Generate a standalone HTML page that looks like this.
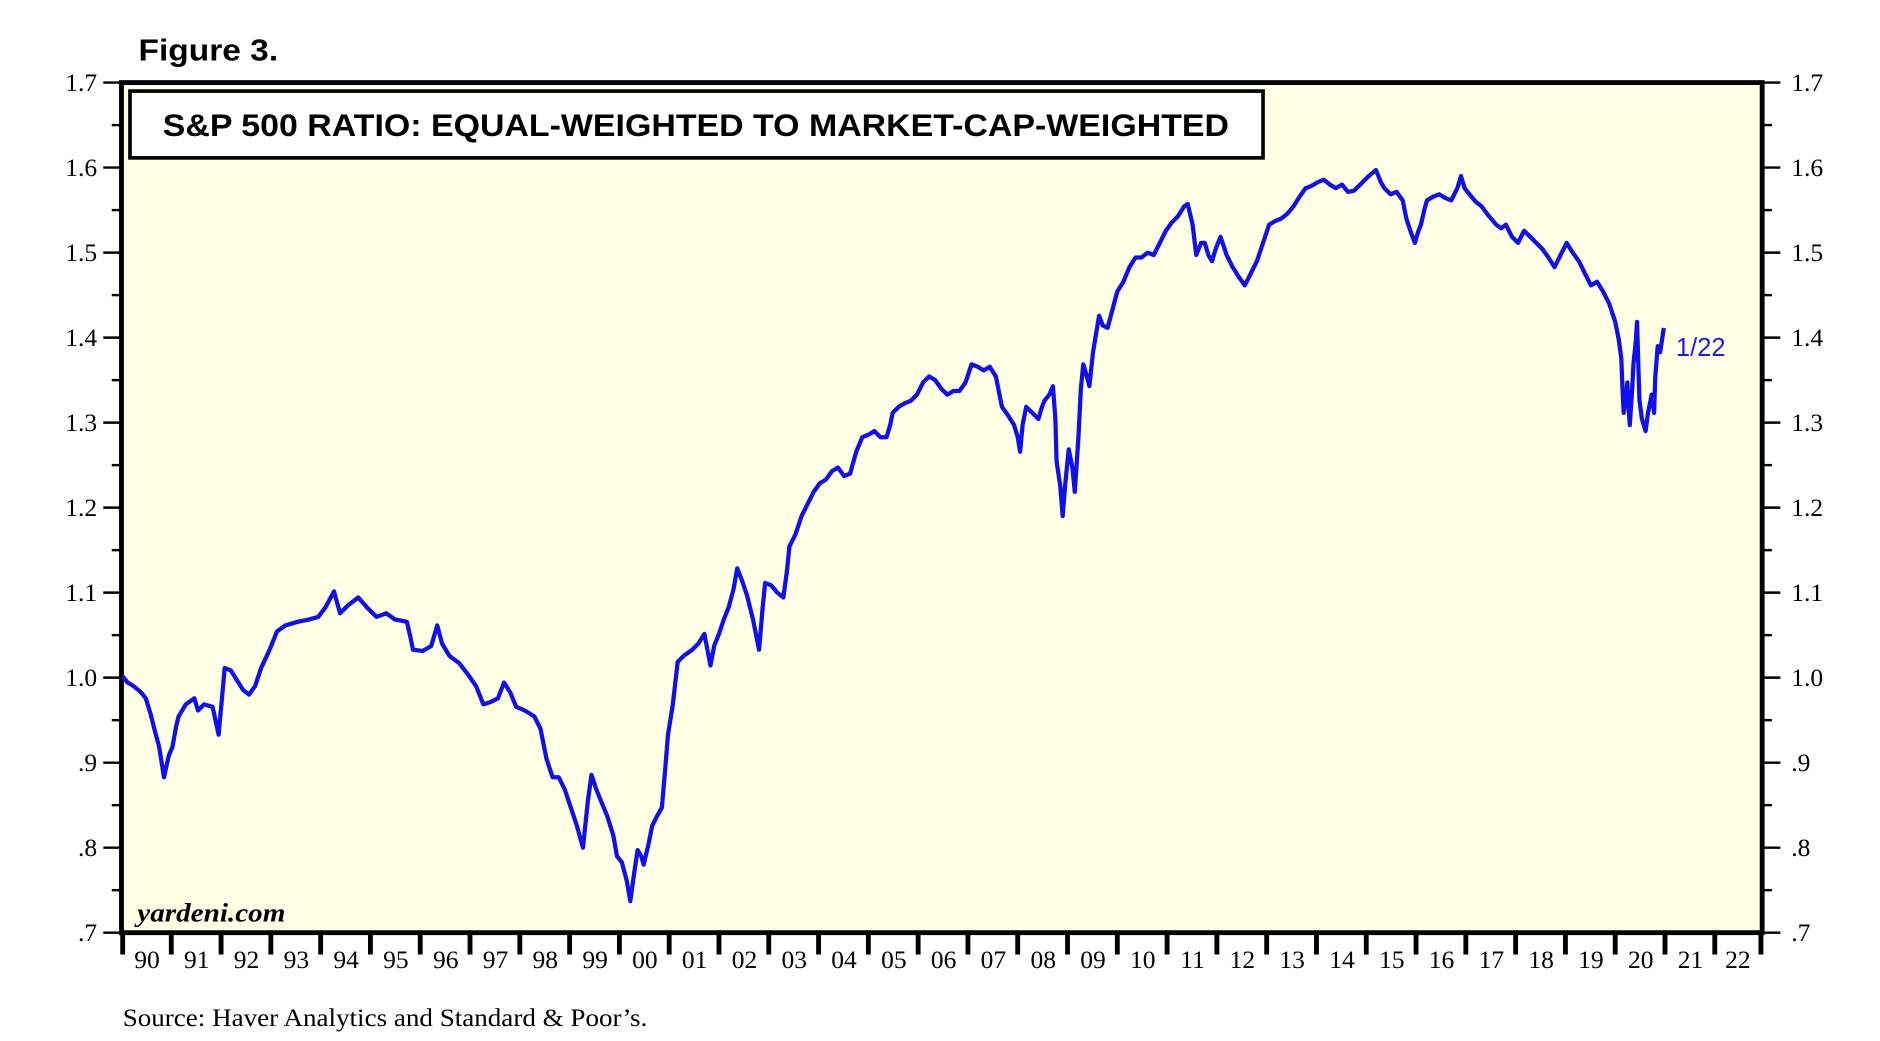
<!DOCTYPE html>
<html><head><meta charset="utf-8"><style>html,body{margin:0;padding:0;background:#fff}svg{display:block}</style></head>
<body>
<svg width="1880" height="1041" viewBox="0 0 1548 857.2" xmlns="http://www.w3.org/2000/svg">
<rect x="0" y="0" width="1548" height="858" fill="#fff"/>
<text x="114" y="50" font-family="Liberation Sans, sans-serif" font-weight="bold" font-size="25" textLength="115" lengthAdjust="spacingAndGlyphs">Figure 3.</text>
<rect x="100" y="68" width="1351" height="700" fill="#ffffe6" stroke="#000" stroke-width="4"/>
<g stroke="#000" stroke-width="2">
<line x1="85" y1="68" x2="100" y2="68"/><line x1="92" y1="103" x2="100" y2="103"/>
<line x1="85" y1="138" x2="100" y2="138"/><line x1="92" y1="173" x2="100" y2="173"/>
<line x1="85" y1="208" x2="100" y2="208"/><line x1="92" y1="243" x2="100" y2="243"/>
<line x1="85" y1="278" x2="100" y2="278"/><line x1="92" y1="313" x2="100" y2="313"/>
<line x1="85" y1="348" x2="100" y2="348"/><line x1="92" y1="383" x2="100" y2="383"/>
<line x1="85" y1="418" x2="100" y2="418"/><line x1="92" y1="453" x2="100" y2="453"/>
<line x1="85" y1="488" x2="100" y2="488"/><line x1="92" y1="523" x2="100" y2="523"/>
<line x1="85" y1="558" x2="100" y2="558"/><line x1="92" y1="593" x2="100" y2="593"/>
<line x1="85" y1="628" x2="100" y2="628"/><line x1="92" y1="663" x2="100" y2="663"/>
<line x1="85" y1="698" x2="100" y2="698"/><line x1="92" y1="733" x2="100" y2="733"/>
<line x1="85" y1="768" x2="100" y2="768"/>
<line x1="1451" y1="68" x2="1466" y2="68"/><line x1="1451" y1="103" x2="1459" y2="103"/>
<line x1="1451" y1="138" x2="1466" y2="138"/><line x1="1451" y1="173" x2="1459" y2="173"/>
<line x1="1451" y1="208" x2="1466" y2="208"/><line x1="1451" y1="243" x2="1459" y2="243"/>
<line x1="1451" y1="278" x2="1466" y2="278"/><line x1="1451" y1="313" x2="1459" y2="313"/>
<line x1="1451" y1="348" x2="1466" y2="348"/><line x1="1451" y1="383" x2="1459" y2="383"/>
<line x1="1451" y1="418" x2="1466" y2="418"/><line x1="1451" y1="453" x2="1459" y2="453"/>
<line x1="1451" y1="488" x2="1466" y2="488"/><line x1="1451" y1="523" x2="1459" y2="523"/>
<line x1="1451" y1="558" x2="1466" y2="558"/><line x1="1451" y1="593" x2="1459" y2="593"/>
<line x1="1451" y1="628" x2="1466" y2="628"/><line x1="1451" y1="663" x2="1459" y2="663"/>
<line x1="1451" y1="698" x2="1466" y2="698"/><line x1="1451" y1="733" x2="1459" y2="733"/>
<line x1="1451" y1="768" x2="1466" y2="768"/>
</g>
<g font-family="Liberation Serif, serif" font-size="21" fill="#000">
<g text-anchor="end">
<text x="80" y="75">1.7</text><text x="80" y="145">1.6</text><text x="80" y="215">1.5</text><text x="80" y="285">1.4</text><text x="80" y="355">1.3</text><text x="80" y="425">1.2</text><text x="80" y="495">1.1</text><text x="80" y="565">1.0</text><text x="80" y="635">.9</text><text x="80" y="705">.8</text><text x="80" y="775">.7</text>
</g>
<text x="1475" y="75">1.7</text><text x="1475" y="145">1.6</text><text x="1475" y="215">1.5</text><text x="1475" y="285">1.4</text><text x="1475" y="355">1.3</text><text x="1475" y="425">1.2</text><text x="1475" y="495">1.1</text><text x="1475" y="565">1.0</text><text x="1475" y="635">.9</text><text x="1475" y="705">.8</text><text x="1475" y="775">.7</text>
</g>
<g stroke="#000" stroke-width="4">
<line x1="101" y1="768" x2="101" y2="786"/><line x1="141" y1="768" x2="141" y2="786"/><line x1="182" y1="768" x2="182" y2="786"/><line x1="223" y1="768" x2="223" y2="786"/><line x1="264" y1="768" x2="264" y2="786"/><line x1="305" y1="768" x2="305" y2="786"/><line x1="346" y1="768" x2="346" y2="786"/><line x1="387" y1="768" x2="387" y2="786"/><line x1="428" y1="768" x2="428" y2="786"/><line x1="469" y1="768" x2="469" y2="786"/><line x1="510" y1="768" x2="510" y2="786"/><line x1="551" y1="768" x2="551" y2="786"/><line x1="592" y1="768" x2="592" y2="786"/><line x1="633" y1="768" x2="633" y2="786"/><line x1="674" y1="768" x2="674" y2="786"/><line x1="715" y1="768" x2="715" y2="786"/><line x1="756" y1="768" x2="756" y2="786"/><line x1="797" y1="768" x2="797" y2="786"/><line x1="838" y1="768" x2="838" y2="786"/><line x1="879" y1="768" x2="879" y2="786"/><line x1="920" y1="768" x2="920" y2="786"/><line x1="961" y1="768" x2="961" y2="786"/><line x1="1002" y1="768" x2="1002" y2="786"/><line x1="1043" y1="768" x2="1043" y2="786"/><line x1="1084" y1="768" x2="1084" y2="786"/><line x1="1125" y1="768" x2="1125" y2="786"/><line x1="1166" y1="768" x2="1166" y2="786"/><line x1="1207" y1="768" x2="1207" y2="786"/><line x1="1248" y1="768" x2="1248" y2="786"/><line x1="1289" y1="768" x2="1289" y2="786"/><line x1="1330" y1="768" x2="1330" y2="786"/><line x1="1371" y1="768" x2="1371" y2="786"/><line x1="1412" y1="768" x2="1412" y2="786"/><line x1="1450" y1="768" x2="1450" y2="786"/>
</g>
<g font-family="Liberation Serif, serif" font-size="21" fill="#000" text-anchor="middle">
<text x="121" y="797">90</text><text x="162" y="797">91</text><text x="203" y="797">92</text><text x="244" y="797">93</text><text x="285" y="797">94</text><text x="326" y="797">95</text><text x="367" y="797">96</text><text x="408" y="797">97</text><text x="449" y="797">98</text><text x="490" y="797">99</text><text x="531" y="797">00</text><text x="572" y="797">01</text><text x="613" y="797">02</text><text x="654" y="797">03</text><text x="695" y="797">04</text><text x="736" y="797">05</text><text x="777" y="797">06</text><text x="818" y="797">07</text><text x="859" y="797">08</text><text x="900" y="797">09</text><text x="941" y="797">10</text><text x="982" y="797">11</text><text x="1023" y="797">12</text><text x="1064" y="797">13</text><text x="1105" y="797">14</text><text x="1146" y="797">15</text><text x="1187" y="797">16</text><text x="1228" y="797">17</text><text x="1269" y="797">18</text><text x="1310" y="797">19</text><text x="1351" y="797">20</text><text x="1392" y="797">21</text><text x="1431" y="797">22</text>
</g>
<rect x="107" y="75" width="933" height="55" fill="#fff" stroke="#000" stroke-width="3"/>
<text x="134" y="112" font-family="Liberation Sans, sans-serif" font-weight="bold" font-size="26" textLength="878" lengthAdjust="spacingAndGlyphs">S&amp;P 500 RATIO: EQUAL-WEIGHTED TO MARKET-CAP-WEIGHTED</text>
<text x="113" y="759" font-family="Liberation Serif, serif" font-weight="bold" font-style="italic" font-size="22" textLength="122" lengthAdjust="spacingAndGlyphs">yardeni.com</text>
<text x="101" y="845" font-family="Liberation Serif, serif" font-size="21" textLength="432" lengthAdjust="spacingAndGlyphs">Source: Haver Analytics and Standard &amp; Poor’s.</text>
<text x="1380" y="293" font-family="Liberation Sans, sans-serif" font-size="21" fill="#1a1aff">1/22</text>
<path fill="none" stroke="#1010ee" stroke-width="3.5" stroke-linejoin="round" d="M101,557 L105,562 L110,565 L116,570 L120,575 L124,588 L127,600 L131,615 L135,640 L139,622 L142,615 L145,598 L147,590 L153,580 L160,575 L163,585 L168,580 L175,582 L180,605 L183,572 L185,550 L190,552 L195,560 L200,568 L205,572 L210,565 L215,550 L222,535 L228,520 L235,515 L245,512 L255,510 L262,508 L268,500 L275,487 L280,505 L287,498 L295,492 L302,500 L310,508 L318,505 L325,510 L335,512 L338,525 L340,535 L348,536 L355,532 L360,515 L364,530 L370,540 L378,546 L385,555 L392,565 L398,580 L404,578 L410,575 L415,562 L420,570 L425,582 L432,585 L440,590 L445,600 L450,625 L455,640 L460,640 L465,650 L470,665 L475,680 L480,698 L484,660 L487,638 L491,650 L495,660 L500,672 L505,688 L508,705 L512,710 L516,725 L519,742 L522,720 L525,700 L528,705 L530,712 L534,695 L537,680 L541,672 L545,665 L548,630 L550,605 L554,580 L558,545 L563,540 L570,535 L575,530 L580,522 L585,548 L588,532 L592,522 L596,510 L600,500 L604,485 L607,468 L611,478 L615,490 L620,510 L625,535 L628,500 L630,480 L635,482 L640,488 L645,492 L648,470 L650,450 L655,440 L660,425 L665,415 L670,405 L675,398 L680,395 L685,388 L690,385 L695,392 L700,390 L705,372 L710,360 L715,358 L720,355 L725,360 L730,360 L733,350 L735,340 L740,335 L745,332 L750,330 L755,325 L760,315 L765,310 L770,313 L775,320 L780,325 L785,322 L790,322 L795,315 L800,300 L805,302 L810,305 L815,302 L820,310 L823,325 L825,335 L830,342 L835,350 L838,360 L840,372 L842,350 L845,335 L850,340 L855,345 L858,335 L860,330 L864,325 L867,318 L869,345 L870,380 L873,400 L875,425 L877,400 L880,370 L883,385 L885,405 L888,360 L890,320 L892,300 L895,310 L897,318 L900,290 L905,260 L908,268 L912,270 L916,255 L920,240 L925,232 L930,220 L935,212 L940,212 L945,208 L950,210 L955,200 L960,190 L965,183 L970,178 L975,170 L978,168 L982,185 L985,210 L989,200 L992,200 L995,210 L998,215 L1001,205 L1005,195 L1010,210 L1015,220 L1020,228 L1025,235 L1030,225 L1035,215 L1040,200 L1045,185 L1050,182 L1055,180 L1060,176 L1065,170 L1070,162 L1075,155 L1080,153 L1085,150 L1090,148 L1095,152 L1100,155 L1105,152 L1110,158 L1115,157 L1120,152 L1127,145 L1133,140 L1137,150 L1140,155 L1145,160 L1150,158 L1155,165 L1158,180 L1162,192 L1165,200 L1168,190 L1170,185 L1173,172 L1175,165 L1180,162 L1185,160 L1190,163 L1195,165 L1200,155 L1203,145 L1206,155 L1210,160 L1215,166 L1220,170 L1226,178 L1232,185 L1236,188 L1240,185 L1245,195 L1250,200 L1255,190 L1260,195 L1265,200 L1270,205 L1275,212 L1280,220 L1285,210 L1290,200 L1295,208 L1300,215 L1305,225 L1310,235 L1315,232 L1320,240 L1325,250 L1330,265 L1333,280 L1335,295 L1336,320 L1337,340 L1339,325 L1340,315 L1341,335 L1342,350 L1344,320 L1345,300 L1347,280 L1348,265 L1349,300 L1350,330 L1352,345 L1355,355 L1357,340 L1360,325 L1362,340 L1363,310 L1365,285 L1367,290 L1370,270"/>
</svg>
</body></html>
